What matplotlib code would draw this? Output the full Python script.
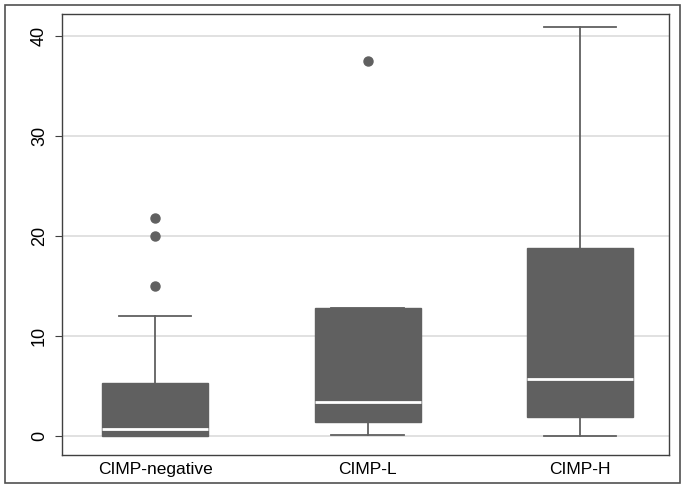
import matplotlib
matplotlib.use("Agg")
import matplotlib.pyplot as plt
from matplotlib.patches import Rectangle

plt.rcParams['font.family'] = ['Liberation Sans', 'DejaVu Sans']

categories = ["CIMP-negative", "CIMP-L", "CIMP-H"]
q1 = [0.0, 1.4, 1.9]
median = [0.7, 3.4, 5.7]
q3 = [5.3, 12.8, 18.8]
whislo = [0.0, 0.1, 0.0]
whishi = [12.0, 12.8, 40.9]
outliers = [[15.0, 20.0, 21.8], [37.5], []]
yticks = [0, 10, 20, 30, 40]

stats = []
for i, c in enumerate(categories):
    stats.append(dict(label=c, q1=q1[i], med=median[i], q3=q3[i],
                      whislo=whislo[i], whishi=whishi[i], fliers=outliers[i]))

fig = plt.figure(figsize=(6.85, 4.91), dpi=100)
ax = fig.add_axes([0.0905, 0.0733, 0.886, 0.898])

gray = "#606060"
res = ax.bxp(stats, positions=[1, 2, 3], widths=0.5, patch_artist=True,
             showfliers=True, capwidths=0.34,
             boxprops=dict(facecolor=gray, edgecolor=gray, linewidth=1.0),
             medianprops=dict(color="white", linewidth=2.0),
             whiskerprops=dict(color=gray, linewidth=1.3),
             capprops=dict(color=gray, linewidth=1.3),
             flierprops=dict(marker="o", markerfacecolor=gray, markeredgecolor=gray,
                             markersize=6.5, linestyle="none"))
for b in res['boxes']:
    b.set_zorder(3)
for m in res['medians']:
    m.set_zorder(4)
for w in res['whiskers'] + res['caps']:
    w.set_zorder(2)

ax.set_xlim(0.56, 3.42)
ax.set_ylim(-1.9, 42.2)
ax.set_yticks(yticks)
ax.set_yticklabels([str(t) for t in yticks], rotation=90, va="center", fontsize=13)
ax.tick_params(axis="x", length=0, labelsize=12.5, pad=5)
ax.tick_params(axis="y", length=5, color="#404040", labelsize=13, pad=5)
ax.set_axisbelow(True)
ax.yaxis.grid(True, color="#dcdcdc", linewidth=1.2, zorder=0)
for s in ax.spines.values():
    s.set_color("#404040")
    s.set_linewidth(1.0)

fig.patches.append(Rectangle((5/685, 1-483/491), 675/685, 478/491,
                             transform=fig.transFigure, fill=False,
                             edgecolor="#505050", linewidth=1.2))

fig.savefig("out.png", dpi=100)
